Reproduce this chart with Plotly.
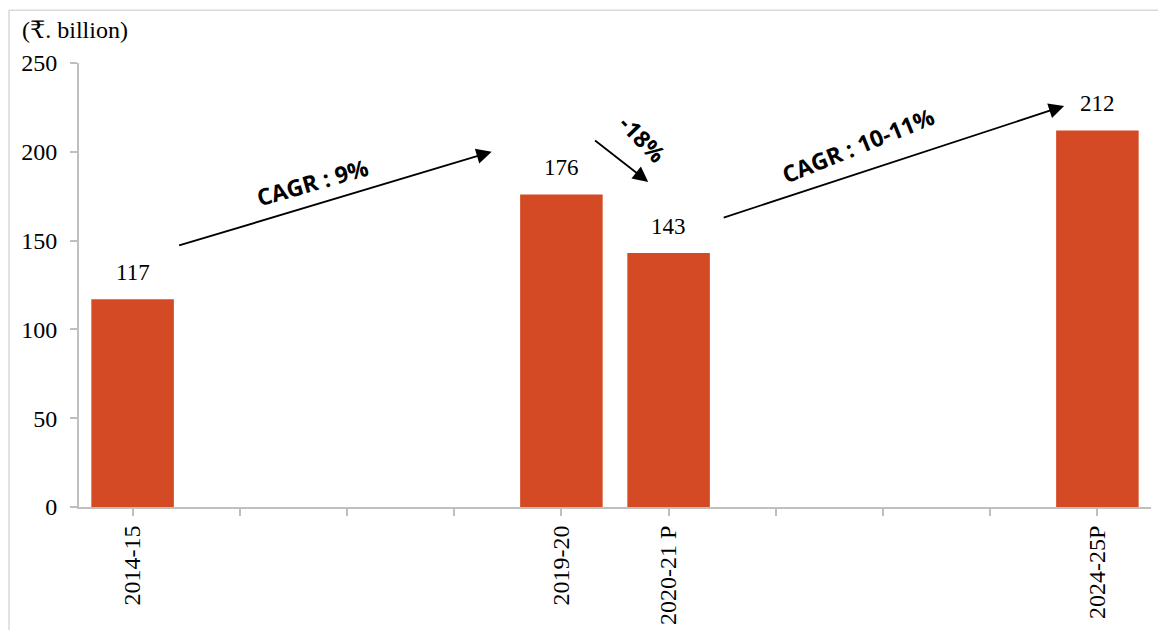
import plotly.graph_objects as go

categories = ["2014-15", " ", "  ", "   ", "2019-20", "2020-21 P", "    ", "     ", "      ", "2024-25P"]
values = [117, None, None, None, 176, 143, None, None, None, 212]
value_labels = ["117", "", "", "", "176", "143", "", "", "", "212"]

BAR = "#D44A24"
AXIS = "#BFBFBF"
SERIF = "Liberation Serif, Times New Roman, DejaVu Serif, serif"
SANS = "Open Sans, Noto Sans, sans-serif"

fig = go.Figure()
fig.add_trace(go.Bar(x=list(range(len(categories))), y=[v if v is not None else 0 for v in values],
                     marker=dict(color=BAR, line=dict(width=0)), hoverinfo="skip"))

ann = []
for i, (v, t) in enumerate(zip(values, value_labels)):
    if v is None:
        continue
    ann.append(dict(x=i, y=v, xref="x", yref="y", text=t, showarrow=False,
                    yanchor="bottom", yshift=12, font=dict(family=SERIF, size=23, color="#000")))

# arrows
arrows = [
    ((0.42, 147), (3.35, 200)),
    ((4.30, 207), (4.81, 183)),
    ((5.50, 162.7), (8.69, 225.8)),
]
for (tx, ty), (hx, hy) in arrows:
    ann.append(dict(x=hx, y=hy, ax=tx, ay=ty, xref="x", yref="y", axref="x", ayref="y",
                    text="", showarrow=True, arrowhead=2, arrowsize=1.7, arrowwidth=1.8,
                    arrowcolor="#000"))

ann.append(dict(x=1.68, y=183, xref="x", yref="y", text="<b>CAGR : 9%</b>", showarrow=False,
                textangle=-16, font=dict(family=SANS, size=23, color="#000")))
ann.append(dict(x=4.76, y=207, xref="x", yref="y", text="<b>-18%</b>", showarrow=False,
                textangle=46, font=dict(family=SANS, size=23, color="#000")))
ann.append(dict(x=6.77, y=204, xref="x", yref="y", text="<b>CAGR : 10-11%</b>", showarrow=False,
                textangle=-22, font=dict(family=SANS, size=23, color="#000")))
ann.append(dict(x=-0.055, y=1.074, xref="paper", yref="paper", text="(₹. billion)", showarrow=False,
                xanchor="left", yanchor="middle", font=dict(family=SERIF, size=24, color="#000")))

# page body has an 8px margin, so figure is shrunk/offset accordingly
fig.update_layout(
    width=1158, height=622,
    margin=dict(l=71, r=15, t=55, b=123),
    paper_bgcolor="white", plot_bgcolor="white",
    showlegend=False, bargap=0.23,
    annotations=ann,
    shapes=[dict(type="rect", xref="paper", yref="paper", x0=-0.0653, x1=1.05, y0=-0.4, y1=1.119,
                 line=dict(color="#D9D9D9", width=1.5), fillcolor="rgba(0,0,0,0)", layer="below")],
    xaxis=dict(tickmode="array", tickvals=list(range(len(categories))), ticktext=categories,
               range=[-0.5, len(categories) - 0.5], tickangle=-90, automargin=False,
               showline=True, linecolor=AXIS, linewidth=2, ticks="outside", ticklen=7,
               tickcolor=AXIS, tickwidth=2, showgrid=False, zeroline=False,
               tickfont=dict(family=SERIF, size=24, color="#000")),
    yaxis=dict(range=[0, 250], dtick=50, showline=True, linecolor=AXIS, linewidth=2,
               automargin=False, ticklabelstandoff=8,
               ticks="outside", ticklen=7, tickcolor=AXIS, tickwidth=2, showgrid=False,
               zeroline=False, tickfont=dict(family=SERIF, size=24, color="#000")),
)

fig.write_html("out.html")
